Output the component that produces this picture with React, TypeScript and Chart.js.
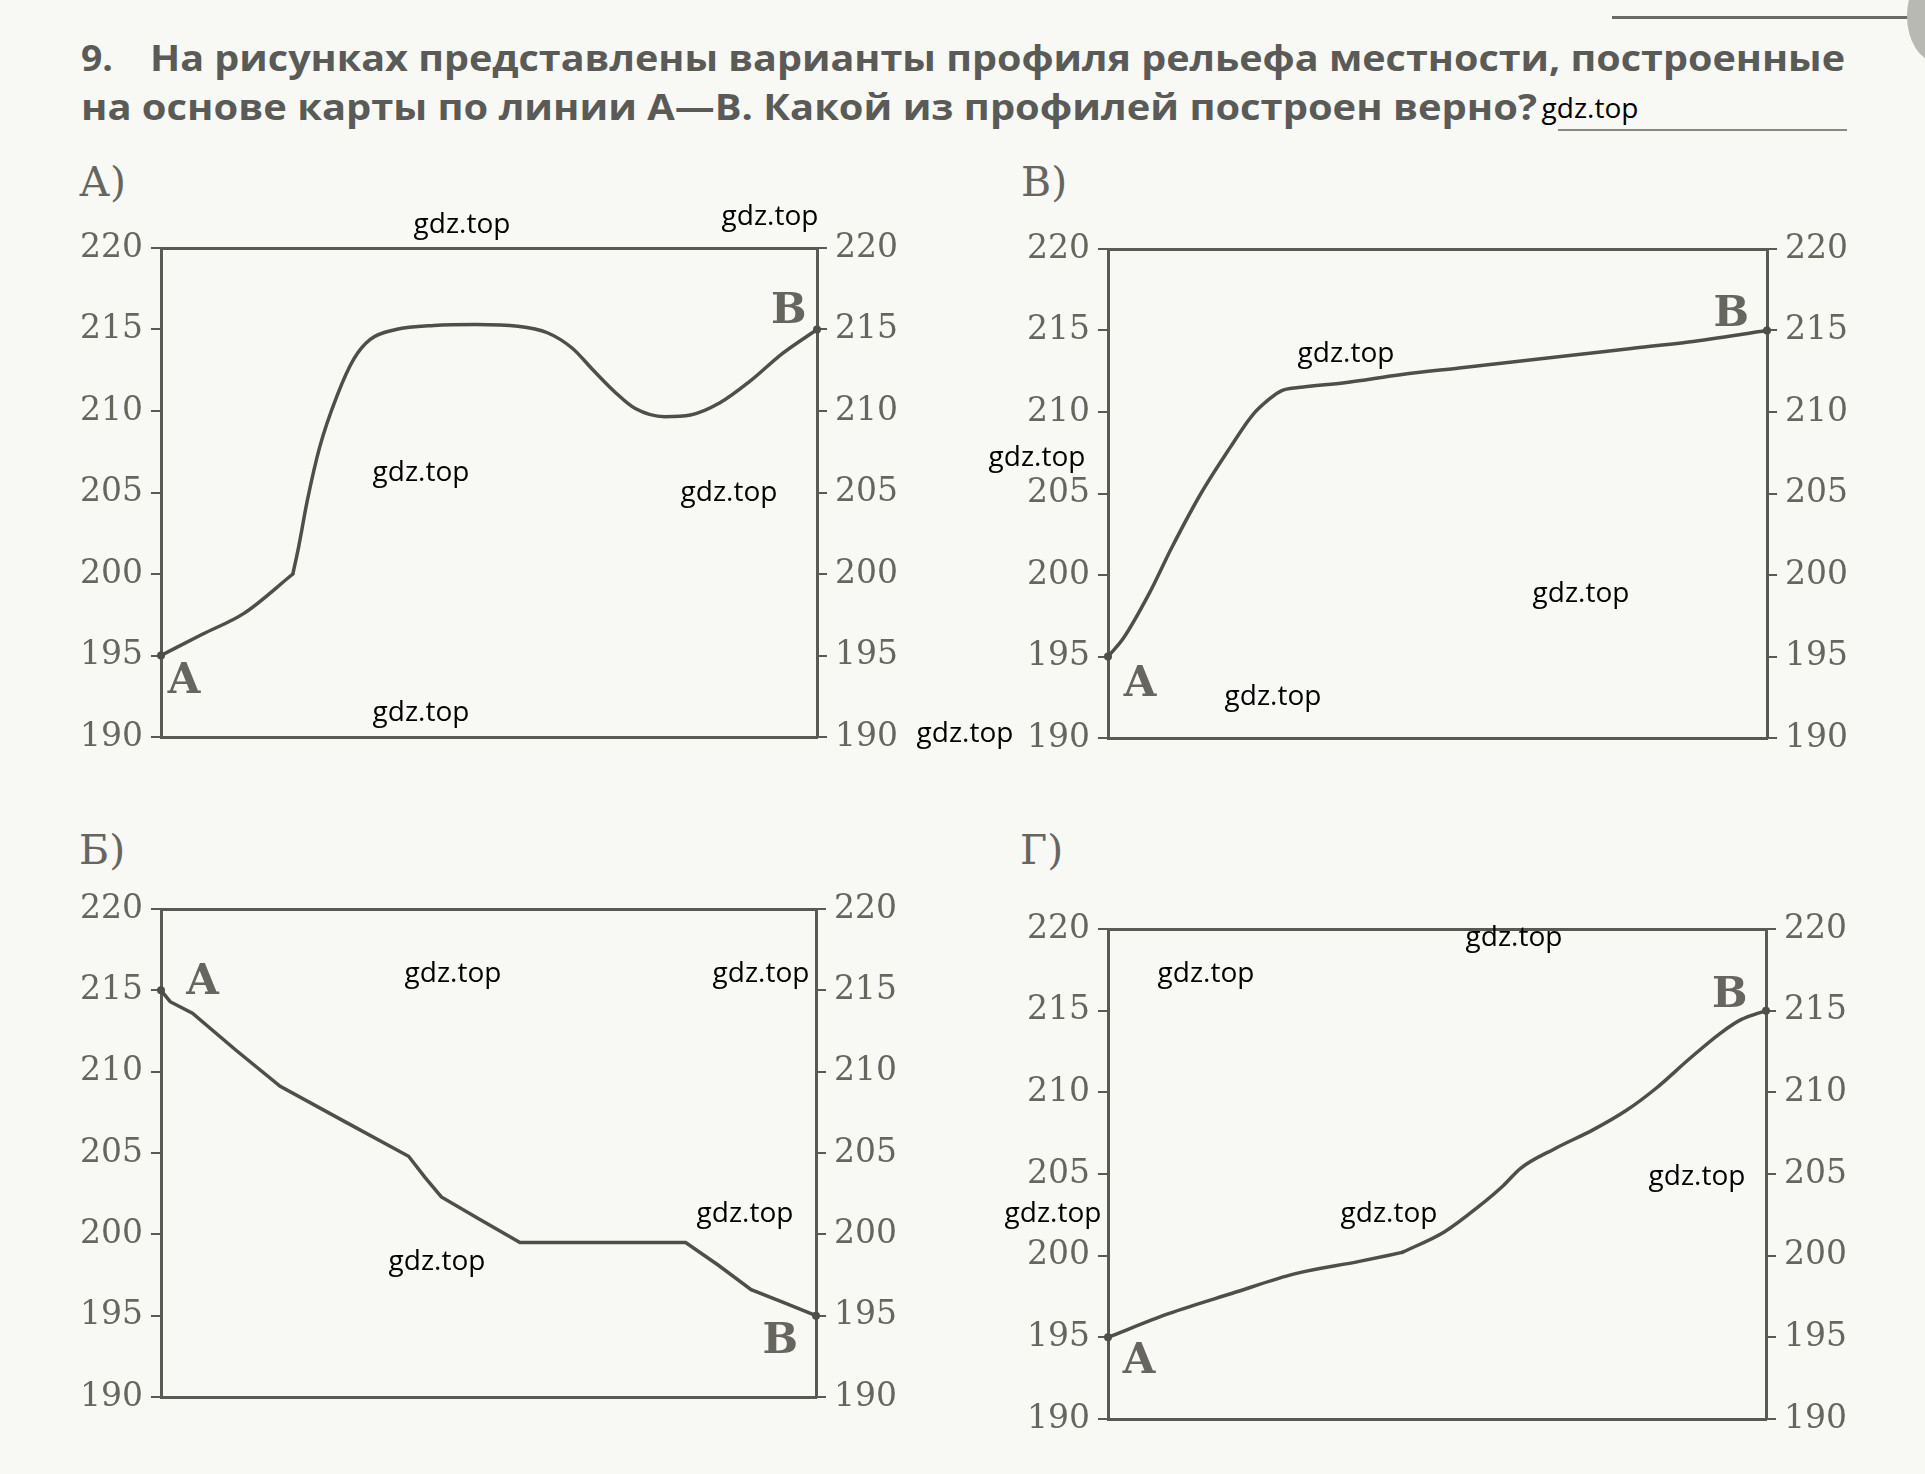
import React, { useEffect, useLayoutEffect, useRef } from "react";
import { Chart, registerables } from "chart.js";

Chart.register(...registerables);

// ---------- data ----------
const yTickValues = [190, 195, 200, 205, 210, 215, 220];
const Y_MIN = 190;
const Y_MAX = 220;

// Profile А) (distance along A–B in %, elevation m); corner index = sharp bend
const profileA_x = [0, 6.3, 12.7, 20.1, 21.0, 22.3, 24.2, 26.8, 29.4, 31.9, 35.8, 41.6, 48.0, 54.4, 58.9, 62.7, 65.9, 69.1, 72.3, 76.8, 80.7, 85.2, 89.7, 94.8, 100];
const profileA_y = [195, 196.3, 197.6, 200, 201.7, 204.5, 207.8, 210.9, 213.2, 214.4, 215.0, 215.25, 215.3, 215.2, 214.8, 213.85, 212.5, 211.2, 210.15, 209.65, 209.75, 210.5, 211.8, 213.55, 215];
const profileA_corners = [3];

// Profile В)
const profileV_x = [0, 2.3, 6.3, 9.7, 14.1, 18.5, 21.9, 24.5, 26.3, 28.9, 35.9, 44.6, 53.3, 62.0, 70.7, 79.4, 88.1, 100];
const profileV_y = [195, 196.1, 198.9, 201.7, 205.0, 207.8, 209.8, 210.8, 211.3, 211.5, 211.8, 212.3, 212.7, 213.1, 213.5, 213.9, 214.3, 215];
const profileV_corners: number[] = [];

// Profile Б)
const profileB_x = [0, 1.4, 4.8, 11.5, 18.2, 28.2, 37.8, 40.3, 42.8, 48.3, 54.8, 80.1, 85.1, 90.1, 95.1, 100];
const profileB_y = [215, 214.3, 213.6, 211.3, 209.1, 206.9, 204.8, 203.5, 202.3, 201.0, 199.5, 199.5, 198.1, 196.6, 195.8, 195];

// Profile Г)
const profileG_x = [0, 9.2, 18.9, 28.5, 38.2, 44.7, 51.1, 56.3, 60.1, 62.7, 67.9, 73.7, 78.8, 83.3, 88.5, 93.0, 96.2, 100];
const profileG_y = [195, 196.45, 197.7, 198.9, 199.65, 200.2, 201.45, 203.0, 204.3, 205.35, 206.55, 207.7, 208.9, 210.25, 212.1, 213.6, 214.45, 215];
const profileG_corners = [5];

const panelLabels = ["А)", "В)", "Б)", "Г)"];
const pointA = "А";
const pointB = "В";
const questionNumber = "9.";
const titleLine1 = "На рисунках представлены варианты профиля рельефа местности, построенные";
const titleLine2 = "на основе карты по линии А—В. Какой из профилей построен верно?";
const watermark = "gdz.top";

// ---------- style ----------
const PAPER = "#f8f8f5";
const INK_LINE = "#4f4f49";
const INK_AXIS = "#5a5a54";
const INK_TEXT = "#66665f";
const TITLE_INK = "#5a5a57";
const SERIF = '"DejaVu Serif", serif';

const watermarkCenters: [number, number][] = [
  [1590, 110], [462, 225], [770, 217], [421, 473], [729, 493], [421, 713], [965, 734],
  [1346, 354], [1037, 458], [1581, 594], [1273, 697],
  [453, 974], [761, 974], [745, 1214], [437, 1262],
  [1206, 974], [1514, 938], [1697, 1177], [1053, 1214], [1389, 1214],
];

const letterPlugin = {
  id: "endLetters",
  afterDatasetsDraw(chart: any, _args: any, opts: any) {
    const n = chart.data.datasets.length;
    const firstPts = chart.getDatasetMeta(0).data;
    const lastPts = chart.getDatasetMeta(n - 1).data;
    if (!firstPts.length || !lastPts.length) return;
    const ctx = chart.ctx;
    const size = 42;
    const capHalf = (0.729 * size) / 2;
    ctx.save();
    ctx.font = `bold ${size}px ${SERIF}`;
    ctx.fillStyle = INK_TEXT;
    ctx.textBaseline = "alphabetic";
    const first = firstPts[0];
    const last = lastPts[lastPts.length - 1];
    ctx.textAlign = "left";
    ctx.fillText(opts.startText, first.x + opts.start[0], first.y + opts.start[1] + capHalf);
    ctx.textAlign = "right";
    ctx.fillText(opts.endText, last.x + opts.end[0], last.y + opts.end[1] + capHalf);
    ctx.restore();
  },
};

type Area = { l: number; r: number; t: number; b: number };

function ProfileChart(props: {
  xs: number[];
  ys: number[];
  corners: number[];
  area: Area;
  start: [number, number];
  end: [number, number];
  smooth: boolean;
}) {
  const { xs, ys, corners, area, start, end, smooth } = props;
  const ref = useRef<HTMLCanvasElement>(null);
  const PAD_X = 10;
  const PAD_Y = 40;
  const AXIS_W = 100;
  const left = area.l - PAD_X - AXIS_W;
  const top = area.t - PAD_Y;
  const width = area.r - area.l + 2 * (PAD_X + AXIS_W);
  const height = area.b - area.t + 2 * PAD_Y;

  useEffect(() => {
    if (!ref.current) return;
    const yAxis = (position: string) => ({
      type: "linear",
      position,
      min: Y_MIN,
      max: Y_MAX,
      afterBuildTicks: (s: any) => {
        s.ticks = yTickValues.map((v) => ({ value: v }));
      },
      afterFit: (s: any) => {
        s.width = AXIS_W;
      },
      ticks: {
        color: INK_TEXT,
        font: { family: SERIF, size: 33 },
        padding: 8,
        callback: (v: any) => String(v),
      },
      grid: {
        display: true,
        drawOnChartArea: false,
        drawTicks: true,
        tickLength: 10,
        color: INK_AXIS,
        lineWidth: 2,
      },
      border: { display: true, color: INK_AXIS, width: 3 },
    });
    const xAxis = (position: string) => ({
      type: "linear",
      position,
      min: 0,
      max: 100,
      ticks: { display: false },
      grid: { display: false },
      border: { display: true, color: INK_AXIS, width: 3 },
      afterFit: (s: any) => {
        s.height = 0;
      },
    });

    // split the profile into smooth pieces at sharp bends
    const bounds = [0, ...corners, xs.length - 1];
    const pieces = [];
    for (let k = 0; k < bounds.length - 1; k++) {
      const a = bounds[k];
      const b = bounds[k + 1];
      const pts = [];
      for (let i = a; i <= b; i++) pts.push({ x: xs[i], y: ys[i] });
      pieces.push(pts);
    }
    const nPieces = pieces.length;
    const datasets = pieces.map((pts, k) => ({
      data: pts,
      borderColor: INK_LINE,
      borderWidth: 3.5,
      borderCapStyle: "round",
      pointRadius: (c: any) =>
        (k === 0 && c.dataIndex === 0) || (k === nPieces - 1 && c.dataIndex === pts.length - 1) ? 4 : 0,
      pointBackgroundColor: INK_LINE,
      pointBorderWidth: 0,
      cubicInterpolationMode: smooth ? "monotone" : "default",
      tension: 0,
      fill: false,
      clip: false,
    }));

    const chart = new Chart(ref.current, {
      type: "line",
      data: { datasets: datasets as any },
      options: {
        responsive: false,
        maintainAspectRatio: false,
        animation: false,
        events: [],
        layout: { padding: { left: PAD_X, right: PAD_X, top: PAD_Y, bottom: PAD_Y } },
        plugins: {
          legend: { display: false },
          tooltip: { enabled: false },
          endLetters: { startText: pointA, endText: pointB, start, end },
        } as any,
        scales: {
          x: xAxis("bottom"),
          x2: xAxis("top"),
          y: yAxis("left"),
          y2: yAxis("right"),
        } as any,
      },
      plugins: [letterPlugin as any],
    });
    return () => chart.destroy();
  }, []);

  return (
    <canvas
      ref={ref}
      width={width}
      height={height}
      style={{ position: "absolute", left, top, width, height }}
    />
  );
}

function FitText(props: {
  text: string;
  left: number;
  baseline: number;
  width: number;
  size: number;
}) {
  const { text, left, baseline, width, size } = props;
  const ref = useRef<HTMLSpanElement>(null);
  useLayoutEffect(() => {
    const el = ref.current;
    if (!el) return;
    el.style.transform = "none";
    const w = el.getBoundingClientRect().width;
    if (w > 0) el.style.transform = `scaleX(${width / w})`;
  }, [text, width]);
  return (
    <span
      ref={ref}
      style={{
        position: "absolute",
        left,
        top: baseline - size * 0.889,
        fontFamily: '"Open Sans", sans-serif',
        fontWeight: 700,
        fontSize: size,
        lineHeight: `${size}px`,
        whiteSpace: "nowrap",
        transformOrigin: "0 0",
        color: TITLE_INK,
      }}
    >
      {text}
    </span>
  );
}

function PanelLabel({ text, left, baseline }: { text: string; left: number; baseline: number }) {
  const size = 41;
  return (
    <span
      style={{
        position: "absolute",
        left,
        top: baseline - size * 0.846,
        fontFamily: SERIF,
        fontSize: size,
        lineHeight: `${size}px`,
        color: INK_TEXT,
        whiteSpace: "nowrap",
      }}
    >
      {text}
    </span>
  );
}

export default function App() {
  useEffect(() => {
    document.body.style.margin = "0";
    document.body.style.background = PAPER;
    document.body.style.overflow = "hidden";
  }, []);

  return (
    <div
      style={{
        position: "absolute",
        left: 0,
        top: 0,
        width: 1925,
        height: 1474,
        background: PAPER,
        overflow: "hidden",
      }}
    >
      {/* decorative page lines */}
      <div style={{ position: "absolute", left: 1612, top: 16, width: 296, height: 3, background: "#6a6a66" }} />
      <div style={{ position: "absolute", left: 1558, top: 129, width: 289, height: 2, background: "#8a8a85" }} />
      <div
        style={{
          position: "absolute",
          left: 1907,
          top: -30,
          width: 60,
          height: 92,
          borderRadius: "50%",
          background: "#b9b9b4",
        }}
      />

      {/* title */}
      <FitText text={questionNumber} left={81} baseline={71.5} width={32} size={35} />
      <FitText text={titleLine1} left={150} baseline={71.5} width={1695} size={35} />
      <FitText text={titleLine2} left={81} baseline={120.5} width={1456} size={35} />

      {/* panel labels */}
      <PanelLabel text={panelLabels[0]} left={79} baseline={197} />
      <PanelLabel text={panelLabels[1]} left={1021} baseline={197} />
      <PanelLabel text={panelLabels[2]} left={79} baseline={865} />
      <PanelLabel text={panelLabels[3]} left={1020} baseline={865} />

      {/* charts */}
      <ProfileChart xs={profileA_x} ys={profileA_y} corners={profileA_corners} area={{ l: 161, r: 817, t: 248, b: 737 }} start={[6, 22]} end={[-10.5, -22]} smooth={true} />
      <ProfileChart xs={profileV_x} ys={profileV_y} corners={profileV_corners} area={{ l: 1108, r: 1767, t: 249, b: 738 }} start={[15, 24]} end={[-18, -20]} smooth={true} />
      <ProfileChart xs={profileB_x} ys={profileB_y} corners={[]} area={{ l: 161, r: 816, t: 909, b: 1397 }} start={[24.5, -11.5]} end={[-18, 22]} smooth={false} />
      <ProfileChart xs={profileG_x} ys={profileG_y} corners={profileG_corners} area={{ l: 1108, r: 1766, t: 929, b: 1419 }} start={[14, 20]} end={[-18.5, -19]} smooth={true} />

      {/* watermarks */}
      {watermarkCenters.map(([cx, cy], i) => (
        <span
          key={i}
          style={{
            position: "absolute",
            left: cx,
            top: cy - 3,
            transform: "translate(-50%, -50%)",
            fontFamily: '"Open Sans", sans-serif',
            fontSize: 28,
            lineHeight: "28px",
            color: "#000",
            whiteSpace: "nowrap",
          }}
        >
          {watermark}
        </span>
      ))}
    </div>
  );
}
